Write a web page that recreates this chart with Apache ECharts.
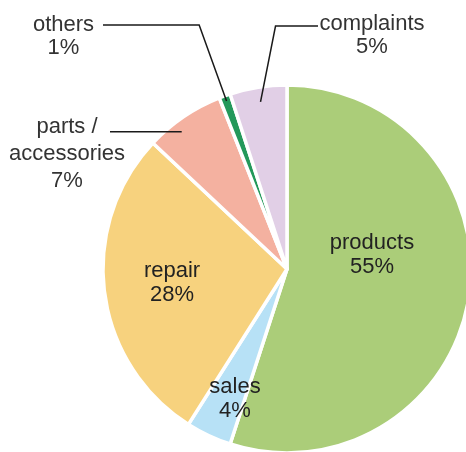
<!DOCTYPE html>
<html>
<head>
<meta charset="utf-8">
<script src="https://cdn.jsdelivr.net/npm/echarts@6/dist/echarts.min.js"></script>
<style>
  html, body { margin: 0; padding: 0; background: #fff; }
  #chart { width: 466px; height: 452px; }
</style>
</head>
<body>
<div id="chart"></div>
<script>
// Share of enquiries by topic (percent), drawn clockwise from 12 o'clock
const categories = ['products', 'sales', 'repair', 'parts /\naccessories', 'others', 'complaints'];
const shares = [55, 4, 28, 7, 1, 5];

// Styling and layout
const sliceColors = ['#abcd79', '#b7e1f6', '#f7d27e', '#f4b1a0', '#23985a', '#e1cfe6'];
const CENTER = [287, 269];
const RADIUS = 184;
const FONT = '"Liberation Sans", Arial, sans-serif';
// label block centres
const LABEL_POS = [[372, 255], [235, 399], [172, 282.5], [67, 153.5], [63.5, 36], [372, 35]];
const OUTSIDE = [false, false, false, true, true, true];

const total = shares.reduce((a, b) => a + b, 0);

// mid-angle of a slice, in degrees clockwise from 12 o'clock
function midAngle(i) {
  let before = 0;
  for (let k = 0; k < i; k++) before += shares[k];
  return (before + shares[i] / 2) / total * 360;
}
function polar(angleDeg, r) {
  const a = angleDeg * Math.PI / 180;
  return [CENTER[0] + r * Math.sin(a), CENTER[1] - r * Math.cos(a)];
}

// leader lines for the outside labels
function leader(i) {
  const a = midAngle(i);
  if (i === 4) { // others: radial run out to the label row, then left
    const p0 = polar(a, RADIUS * 0.97);
    const rowY = 25;
    const t = (CENTER[1] - rowY) / Math.cos(a * Math.PI / 180);
    const p1 = polar(a, t);
    return [p0, p1, [103, rowY]];
  }
  if (i === 5) { // complaints: up and right
    const p0 = polar(a, RADIUS * 0.92);
    const rowY = 26;
    return [p0, [p0[0] + 15, rowY], [318, rowY]];
  }
  if (i === 3) { // parts / accessories: straight left from inside the slice
    const p0 = polar(a - 3.3, RADIUS * 0.94);
    return [p0, [110, p0[1]]];
  }
  return null;
}

const data = categories.map((name, i) => {
  const item = {
    name: name,
    value: shares[i],
    itemStyle: { color: sliceColors[i] }
  };
  if (OUTSIDE[i]) {
    item.label = {
      position: 'outside',
      color: '#333',
      lineHeight: i === 3 ? 27 : 23
    };
  }
  return item;
});

// leader lines sit above the slices
const leaderGraphics = [];
categories.forEach((_, i) => {
  const pts = leader(i);
  if (pts) {
    leaderGraphics.push({
      type: 'polyline',
      z: 100,
      silent: true,
      shape: { points: pts },
      style: { stroke: '#1a1a1a', lineWidth: 1.5, fill: null }
    });
  }
});

const chart = echarts.init(document.getElementById('chart'), null, { renderer: 'canvas' });
chart.setOption({
  animation: false,
  backgroundColor: '#ffffff',
  graphic: leaderGraphics,
  series: [{
    type: 'pie',
    center: CENTER,
    radius: RADIUS,
    startAngle: 90,
    clockwise: true,
    avoidLabelOverlap: false,
    silent: true,
    itemStyle: { borderColor: '#ffffff', borderWidth: 3.5 },
    label: {
      show: true,
      position: 'inside',
      formatter: p => p.name + '\n' + p.value + '%',
      fontFamily: FONT,
      fontSize: 22,
      lineHeight: 24,
      color: '#222',
      align: 'center'
    },
    labelLine: { show: false },
    labelLayout: params => {
      const i = params.dataIndex;
      return {
        x: LABEL_POS[i][0],
        y: LABEL_POS[i][1],
        align: 'center',
        verticalAlign: 'middle'
      };
    },
    data: data
  }]
});
</script>
</body>
</html>
